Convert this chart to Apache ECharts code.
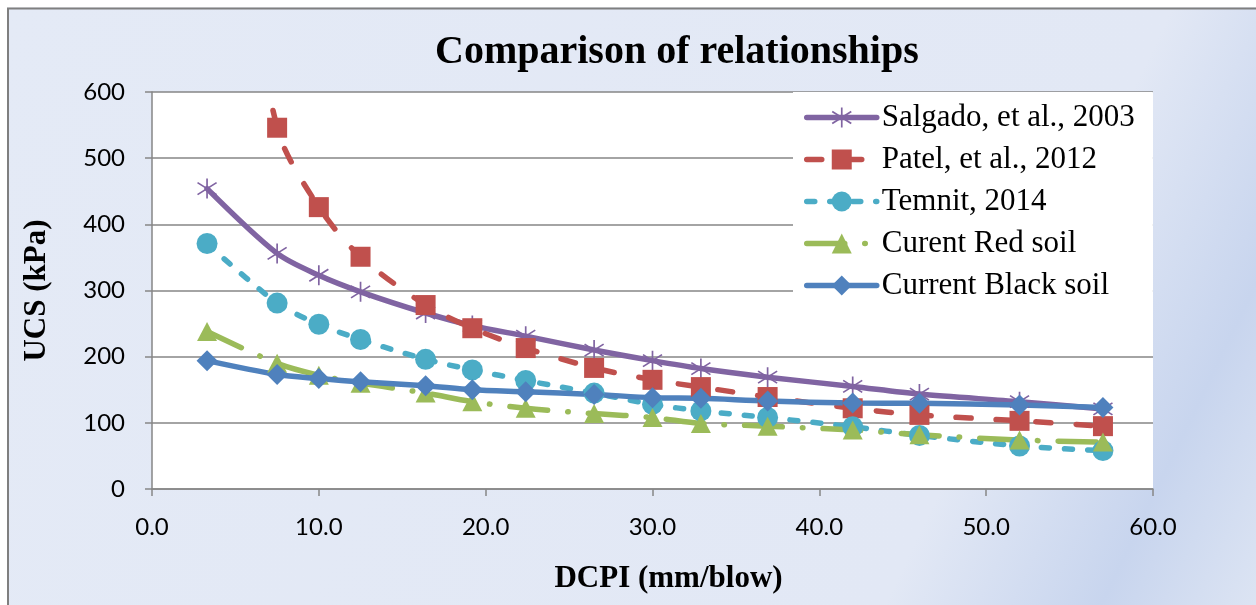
<!DOCTYPE html>
<html>
<head>
<meta charset="utf-8">
<script src="https://cdn.jsdelivr.net/npm/echarts@6/dist/echarts.min.js"></script>
<style>
  html, body { margin: 0; padding: 0; background: #ffffff; }
  #chart { width: 1256px; height: 605px; }
</style>
</head>
<body>
<div id="chart"></div>
<script>
// DCPI values (mm/blow) shared by every relationship
const dcpi = [3.3, 7.5, 10, 12.5, 16.4, 19.2, 22.4, 26.5, 30, 32.9, 36.9, 42, 46, 52, 57];

// UCS (kPa) predicted by each relationship
const salgado = [454, 356, 323, 298, 266, 247, 231, 210, 194, 182, 169, 155, 143.5, 132, 121];
// first Patel value lies above the 600 kPa axis limit and is clipped by the grid
const patel = [1107, 546, 426, 351, 278, 243, 213, 183, 165, 154, 139, 122, 112, 103, 95];
const temnit = [371, 281, 249, 226, 196, 180, 164, 145, 128, 118, 108, 94, 81, 65, 58];
const redSoil = [238, 190, 172, 160, 145, 132, 122, 114, 108, 99, 95, 89, 82, 74, 71];
const blackSoil = [194, 173, 167, 162, 156, 150, 147, 143, 138, 137, 133, 130, 129.5, 127, 123];

const seriesNames = ['Salgado, et al., 2003', 'Patel, et al., 2012', 'Temnit, 2014', 'Curent Red soil', 'Current Black soil'];

const chartTitle = 'Comparison of relationships';
const xTitle = 'DCPI (mm/blow)';
const yTitle = 'UCS (kPa)';

function pairs(xs, ys) {
  return xs.map((x, i) => [x, ys[i]]);
}

// asterisk marker made of three thin bars
function bar(x1, y1, x2, y2, w) {
  const dx = x2 - x1, dy = y2 - y1, len = Math.hypot(dx, dy);
  const nx = -dy / len * w, ny = dx / len * w;
  return 'M' + (x1 + nx) + ' ' + (y1 + ny) + 'L' + (x2 + nx) + ' ' + (y2 + ny) +
         'L' + (x2 - nx) + ' ' + (y2 - ny) + 'L' + (x1 - nx) + ' ' + (y1 - ny) + 'Z';
}
const starSymbol = 'path://' + bar(10, 0, 10, 20, 0.8) + bar(1, 4, 19, 16, 0.8) + bar(1, 16, 19, 4, 0.8);

const gray = '#868686';
const labelFont = 'Lato';
const serif = 'Liberation Serif';
const lineW = 5.5;

const patelData = pairs(dcpi, patel).map((p, i) => i === 0 ? { value: p, symbol: 'none' } : p);

const chart = echarts.init(document.getElementById('chart'), null, { renderer: 'canvas' });

chart.setOption({
  backgroundColor: {
    type: 'linear', x: 0, y: 0, x2: 1, y2: 1,
    colorStops: [
      { offset: 0, color: '#e4eaf6' },
      { offset: 0.76, color: '#e2e8f5' },
      { offset: 0.9, color: '#c8d5ee' },
      { offset: 1, color: '#dce4f3' }
    ]
  },
  animation: false,
  title: {
    text: chartTitle,
    left: 430,
    top: 28,
    textStyle: { fontFamily: serif, fontWeight: 'bold', fontSize: 40, color: '#000' }
  },
  graphic: [
    { type: 'rect', shape: { x: 0, y: 0, width: 1256, height: 7.5 }, style: { fill: '#fff' }, silent: true },
    { type: 'rect', shape: { x: 0, y: 0, width: 7, height: 605 }, style: { fill: '#fff' }, silent: true },
    { type: 'line', shape: { x1: 7, y1: 8.5, x2: 1256, y2: 8.5 }, style: { stroke: '#7f7f7f', lineWidth: 2 }, silent: true },
    { type: 'line', shape: { x1: 8, y1: 8, x2: 8, y2: 605 }, style: { stroke: '#7f7f7f', lineWidth: 2 }, silent: true }
  ],
  legend: {
    orient: 'vertical',
    left: 793,
    top: 92,
    padding: [10, 18, 12, 11],
    backgroundColor: '#ffffff',
    itemWidth: 70,
    itemHeight: 25,
    itemGap: 11,
    lineStyle: { width: lineW },
    textStyle: { fontFamily: serif, fontSize: 31, color: '#000' },
    data: seriesNames
  },
  grid: {
    left: 152, right: 103, top: 92, bottom: 116,
    show: true, backgroundColor: '#ffffff', borderWidth: 0,
    containLabel: false
  },
  xAxis: {
    type: 'value', min: 0, max: 60, interval: 10,
    name: xTitle, nameLocation: 'middle', nameGap: 74,
    nameTextStyle: { fontFamily: serif, fontWeight: 'bold', fontSize: 31, color: '#000', padding: [0, 0, 0, 32] },
    axisLine: { show: true, lineStyle: { color: gray, width: 1.5 } },
    axisTick: { show: true, inside: false, length: 7, lineStyle: { color: gray, width: 1.5 } },
    axisLabel: { margin: 26, fontFamily: labelFont, fontSize: 24, color: '#000', formatter: v => v.toFixed(1) },
    splitLine: { show: false }
  },
  yAxis: {
    type: 'value', min: 0, max: 600, interval: 100,
    name: yTitle, nameLocation: 'middle', nameGap: 100,
    nameTextStyle: { fontFamily: serif, fontWeight: 'bold', fontSize: 31, color: '#000' },
    axisLine: { show: true, lineStyle: { color: gray, width: 1.5 } },
    axisTick: { show: true, inside: false, length: 7, lineStyle: { color: gray, width: 1.5 } },
    axisLabel: { margin: 27, fontFamily: labelFont, fontSize: 24, color: '#000' },
    splitLine: { show: true, lineStyle: { color: gray, width: 1.5 } }
  },
  series: [
    {
      name: seriesNames[0], type: 'line', smooth: 0.3, data: pairs(dcpi, salgado),
      symbol: starSymbol, symbolSize: 20,
      lineStyle: { color: '#8064A2', width: lineW, cap: 'round' },
      itemStyle: { color: '#8064A2' }
    },
    {
      name: seriesNames[1], type: 'line', smooth: 0.3, data: patelData,
      symbol: 'rect', symbolSize: 20,
      lineStyle: { color: '#C0504D', width: lineW, type: [15, 25], cap: 'round' },
      itemStyle: { color: '#C0504D' }
    },
    {
      name: seriesNames[2], type: 'line', smooth: 0.3, data: pairs(dcpi, temnit),
      symbol: 'circle', symbolSize: 21,
      lineStyle: { color: '#4BACC6', width: lineW, type: [8, 15], cap: 'round' },
      itemStyle: { color: '#4BACC6' }
    },
    {
      name: seriesNames[3], type: 'line', smooth: 0.3, data: pairs(dcpi, redSoil),
      symbol: 'triangle', symbolSize: [20, 19],
      lineStyle: { color: '#9BBB59', width: lineW, type: [38, 20, 0.5, 20], cap: 'round' },
      itemStyle: { color: '#9BBB59' }
    },
    {
      name: seriesNames[4], type: 'line', smooth: 0.3, data: pairs(dcpi, blackSoil),
      symbol: 'diamond', symbolSize: 21,
      lineStyle: { color: '#4F81BD', width: lineW, cap: 'round' },
      itemStyle: { color: '#4F81BD' }
    }
  ]
});
</script>
</body>
</html>
